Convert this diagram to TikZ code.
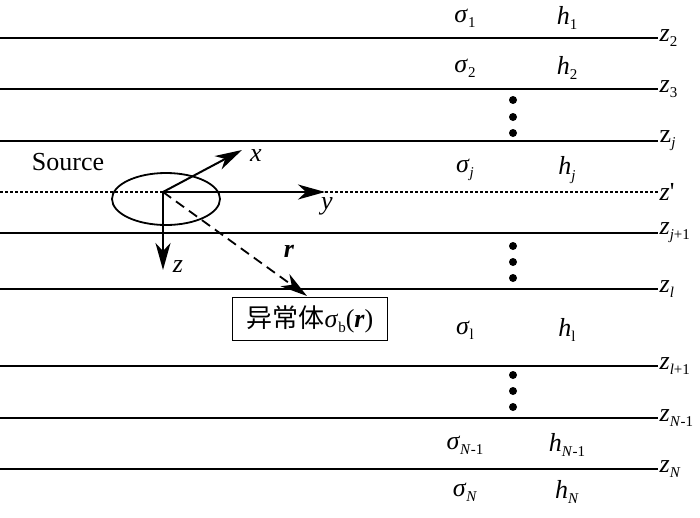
\documentclass[tikz,border=0pt]{standalone}
\usepackage{fontspec}
\setmainfont{Liberation Serif}
\newfontfamily\cjk{Noto Sans CJK SC}
\usetikzlibrary{arrows.meta,shapes.geometric}
\newcommand\lsub[1]{\raisebox{-0.2em}{\fontsize{15}{15}\selectfont #1}}
\begin{document}
\begin{tikzpicture}[x=1pt,y=-1pt,font=\fontsize{26}{30}\selectfont,
  layer/.style={line width=2pt},
  zlab/.style={anchor=west,inner sep=1.5pt},
  lab/.style={inner sep=0pt},
  axis/.style={line width=2pt,-{Stealth[length=27pt,width=15pt,inset=8pt]}},
  dot/.style={circle,fill,inner sep=0pt,minimum size=8pt}]
\useasboundingbox (0,0) rectangle (700,517);
% layer boundaries
\foreach \y/\n/\t in {38/z2/{\textit{z}\lsub{2}},89/z3/{\textit{z}\lsub{3}},141/zj/{z\lsub{\textit{j}}},233/zjp/{\textit{z}\lsub{\textit{j}+1}},289/zl/{\textit{z}\lsub{\textit{l}}},366/zlp/{\textit{z}\lsub{\textit{l}+1}},418/zNm/{\textit{z}\lsub{\textit{N}-1}},469/zN/{\textit{z}\lsub{\textit{N}}}}{
  \node[zlab] (\n) at (658,\y) {\t};
  \coordinate (\n s) at (0,\y);
  \draw[layer] (\n s) -- (\n.west);
}
\node[zlab] (zp) at (658,192) {\textit{z}\textquotesingle};
\coordinate (zps) at (0,192);
\draw[line width=1.3pt,dash pattern=on 3pt off 2pt] (zps) -- (zp.west);
% layer properties
\node[lab] (s1) at (465,18) {\textit{σ}\lsub{1}};
\node[lab] (h1) at (567,18) {\textit{h}\lsub{1}};
\node[lab] (s2) at (465,68) {\textit{σ}\lsub{2}};
\node[lab] (h2) at (567,68) {\textit{h}\lsub{2}};
\node[lab] (sj) at (465,170) {\textit{σ}\lsub{\textit{j}}};
\node[lab] (hj) at (567,170) {\textit{h}\lsub{\textit{j}}};
\node[lab] (sl) at (465,330) {\textit{σ}\lsub{l}};
\node[lab] (hl) at (567,330) {\textit{h}\lsub{l}};
\node[lab] (sNm) at (465,445) {\textit{σ}\lsub{\textit{N}-1}};
\node[lab] (hNm) at (567,445) {\textit{h}\lsub{\textit{N}-1}};
\node[lab] (sN) at (465,492) {\textit{σ}\lsub{\textit{N}}};
\node[lab] (hN) at (567,492) {\textit{h}\lsub{\textit{N}}};
% dots
\foreach \y [count=\i] in {100,117,133,246,262,278,375,391,407}
  \node[dot] (d\i) at (513,\y) {};
% source
\node[lab] (src) at (68,162) {Source};
\node[draw,ellipse,line width=1.8pt,minimum width=108pt,minimum height=52pt,inner sep=0pt] (ell) at (166,199) {};
\coordinate (O) at (163,192);
\coordinate (xe) at (242,150);
\coordinate (ye) at (325,192);
\coordinate (ze) at (163,270);
\coordinate (re) at (307,296);
\draw[axis] (O) -- (xe);
\draw[axis] (O) -- (ye);
\draw[axis] (O) -- (ze);
\draw[axis,line width=1.8pt,dash pattern=on 10pt off 6pt] (O) -- (re);
\node[lab] (xl) at (256,156) {\textit{x}};
\node[lab] (yl) at (327,206) {\textit{y}};
\node[lab] (zl2) at (178,267) {\textit{z}};
\node[lab] (rl) at (289,251) {\textbf{\textit{r}}};
\node[draw,line width=1.8pt,minimum width=155pt,minimum height=43pt,inner sep=2pt] (anom) at (310,319) {{\cjk 异常体}\textit{σ}\lsub{b}(\textbf{\textit{r}})};
\end{tikzpicture}
\end{document}
